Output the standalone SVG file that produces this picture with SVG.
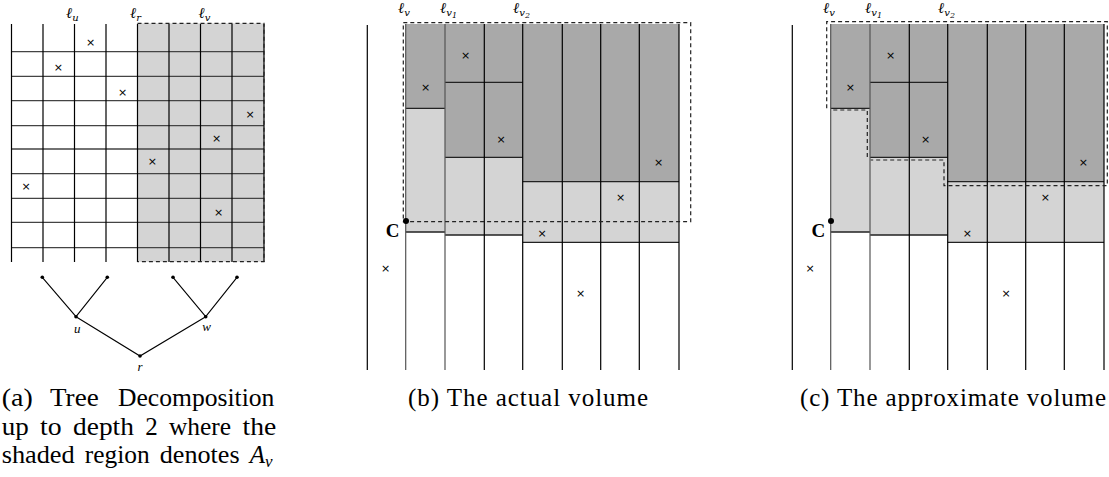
<svg xmlns="http://www.w3.org/2000/svg" width="1109" height="477" viewBox="0 0 1109 477">
<style>
.vl{stroke:#000;stroke-width:1.2;fill:none}
.vg{stroke:#555;stroke-width:1.2;fill:none}
.hl{stroke:#444;stroke-width:1.3;fill:none}
.hk{stroke:#222;stroke-width:1.3;fill:none}
.dash{stroke:#222;stroke-width:1.2;fill:none;stroke-dasharray:4,3}
.dk{fill:#a9a9a9}
.lt{fill:#d4d4d4}
.x{font-family:"DejaVu Sans",sans-serif;font-size:11px;text-anchor:middle;dominant-baseline:central;fill:#000}
.ell{font-family:"DejaVu Serif","Liberation Serif",serif;font-style:italic;font-size:15px;fill:#000}
.sub{font-size:10px}
.nl{font-family:"Liberation Serif",serif;font-style:italic;font-size:13px;text-anchor:middle;fill:#000}
.cap{font-family:"Liberation Serif",serif;font-size:25px;fill:#000}
.C{font-family:"Liberation Serif",serif;font-weight:bold;font-size:19px;text-anchor:middle;fill:#000}
.edge{stroke:#000;stroke-width:1.1;fill:none}
</style>

<!-- Panel (a) -->
<g id="panel-a">
  <rect class="lt" x="137.5" y="23.3" width="126.5" height="238.4"/>
  <g id="grid-h">
    <path class="hl" d="M11.5,51.7H264M11.5,76.3H264M11.5,100.7H264M11.5,125.7H264M11.5,149H264M11.5,173.7H264M11.5,198.3H264M11.5,222.3H264M11.5,247.7H264"/>
  </g>
  <g id="grid-v">
    <path class="vl" d="M11.5,24V262M43,24V262M74.5,24V262M106,24V262M137.5,24V262M169,24V262M200.5,24V262M232,24V262M264,24V262"/>
  </g>
  <path class="dash" d="M137.5,23.3H264V261.7H137.5"/>
  <g id="a-labels">
    <text class="ell" x="66" y="17.5">ℓ<tspan class="sub" dy="3">u</tspan></text>
    <text class="ell" x="130" y="17.5">ℓ<tspan class="sub" dy="3">r</tspan></text>
    <text class="ell" x="198.5" y="17.5">ℓ<tspan class="sub" dy="3">v</tspan></text>
  </g>
  <g id="a-points">
    <text class="x" x="90.7" y="42.3">×</text>
    <text class="x" x="58.3" y="67.7">×</text>
    <text class="x" x="122.7" y="92">×</text>
    <text class="x" x="250" y="114.3">×</text>
    <text class="x" x="216.7" y="138.3">×</text>
    <text class="x" x="152.3" y="161.7">×</text>
    <text class="x" x="26" y="186">×</text>
    <text class="x" x="218.7" y="212.3">×</text>
  </g>
</g>

<!-- Tree -->
<g id="tree">
  <g id="tree-edges">
    <path class="edge" d="M42.3,277.3L76,316.7L107.3,277.3M173,277.3L205.7,316.7L237,277.3M76,316.7L140,356L205.7,316.7"/>
  </g>
  <g id="node-leaf1"><circle cx="42.3" cy="277.3" r="1.8"/></g>
  <g id="node-leaf2"><circle cx="107.3" cy="277.3" r="1.8"/></g>
  <g id="node-leaf3"><circle cx="173" cy="277.3" r="1.8"/></g>
  <g id="node-leaf4"><circle cx="237" cy="277.3" r="1.8"/></g>
  <g id="node-u"><circle cx="76" cy="316.7" r="1.8"/><text class="nl" x="77.3" y="333">u</text></g>
  <g id="node-w"><circle cx="205.7" cy="316.7" r="1.8"/><text class="nl" x="206.7" y="331">w</text></g>
  <g id="node-r"><circle cx="140" cy="356" r="1.8"/><text class="nl" x="140" y="371">r</text></g>
</g>

<!-- Caption (a) -->
<g id="caption-a" class="cap">
  <text x="1.7" y="406" textLength="31" lengthAdjust="spacingAndGlyphs">(a)</text>
  <text x="50" y="406" textLength="48.7" lengthAdjust="spacingAndGlyphs">Tree</text>
  <text x="118" y="406" textLength="156.4" lengthAdjust="spacingAndGlyphs">Decomposition</text>
  <text x="1.7" y="434.5" textLength="27" lengthAdjust="spacingAndGlyphs">up</text>
  <text x="40.1" y="434.5" textLength="21.6" lengthAdjust="spacingAndGlyphs">to</text>
  <text x="73.1" y="434.5" textLength="60.8" lengthAdjust="spacingAndGlyphs">depth</text>
  <text x="145.3" y="434.5">2</text>
  <text x="168.9" y="434.5" textLength="62.2" lengthAdjust="spacingAndGlyphs">where</text>
  <text x="242.5" y="434.5" textLength="33.7" lengthAdjust="spacingAndGlyphs">the</text>
  <text x="1.7" y="463" textLength="73" lengthAdjust="spacingAndGlyphs">shaded</text>
  <text x="84.8" y="463" textLength="64.9" lengthAdjust="spacingAndGlyphs">region</text>
  <text x="159.8" y="463" textLength="79.8" lengthAdjust="spacingAndGlyphs">denotes</text>
  <text x="249.7" y="463" font-style="italic">A<tspan font-size="17" dy="4">v</tspan></text>
</g>

<!-- Panel (b) -->
<g id="panel-b">
  <rect class="dk" x="405.7" y="24" width="39.3" height="84.3"/>
  <rect class="lt" x="405.7" y="108.3" width="39.3" height="123.7"/>
  <rect class="dk" x="445" y="24" width="77.7" height="133.3"/>
  <rect class="lt" x="445" y="157.3" width="77.7" height="77.7"/>
  <rect class="dk" x="522.7" y="24" width="156.3" height="157.7"/>
  <rect class="lt" x="522.7" y="181.7" width="156.3" height="60.6"/>
  <path class="hk" d="M405.7,108.3H445M405.7,232H445M445,82.3H522.7M445,157.3H522.7M445,235H522.7M522.7,181.7H679M522.7,242.3H679"/>
  <path class="vl" d="M367.3,25V370"/>
  <path class="vg" d="M405.7,24V370M445,24V370"/>
  <path class="vl" d="M484.3,24V370M562.3,24V370M600.7,24V370M639.3,24V370M679,24V370"/>
  <path class="vl" stroke-width="2.2" d="M522.7,24V370"/>
  <rect class="dash" x="403.3" y="22.7" width="287.4" height="199"/>
  <g id="b-labels">
    <text class="ell" x="398" y="13">ℓ<tspan class="sub" dy="3">v</tspan></text>
    <text class="ell" x="440" y="13">ℓ<tspan class="sub" dy="3">v<tspan font-size="8" dy="2">1</tspan></tspan></text>
    <text class="ell" x="513" y="13">ℓ<tspan class="sub" dy="3">v<tspan font-size="8" dy="2">2</tspan></tspan></text>
  </g>
  <g id="b-C"><circle cx="406" cy="221" r="3"/><text class="C" x="392.5" y="237">C</text></g>
  <g id="b-points">
    <text class="x" x="465.7" y="55">×</text>
    <text class="x" x="425.7" y="87.3">×</text>
    <text class="x" x="501" y="139.3">×</text>
    <text class="x" x="658.7" y="162.7">×</text>
    <text class="x" x="620.7" y="197.7">×</text>
    <text class="x" x="542" y="233.3">×</text>
    <text class="x" x="385.7" y="268.3">×</text>
    <text class="x" x="580.7" y="293.3">×</text>
  </g>
</g>
<text class="cap" x="408" y="406" textLength="240" lengthAdjust="spacing">(b) The actual volume</text>

<!-- Panel (c) -->
<g id="panel-c" transform="translate(425,0)">
  <rect class="dk" x="405.7" y="24" width="39.3" height="84.3"/>
  <rect class="lt" x="405.7" y="108.3" width="39.3" height="123.7"/>
  <rect class="dk" x="445" y="24" width="77.7" height="133.3"/>
  <rect class="lt" x="445" y="157.3" width="77.7" height="77.7"/>
  <rect class="dk" x="522.7" y="24" width="156.3" height="157.7"/>
  <rect class="lt" x="522.7" y="181.7" width="156.3" height="60.6"/>
  <path class="hk" d="M405.7,108.3H445M405.7,232H445M445,82.3H522.7M445,157.3H522.7M445,235H522.7M522.7,181.7H679M522.7,242.3H679"/>
  <path class="vl" d="M367.3,25V370"/>
  <path class="vg" d="M405.7,24V370M445,24V370"/>
  <path class="vl" d="M484.3,24V370M562.3,24V370M600.7,24V370M639.3,24V370M679,24V370"/>
  <path class="vl" stroke-width="2.2" d="M522.7,24V370"/>
  <path class="dash" stroke-width="1.5" d="M401.7,108.3V21.7H682.3V185.7H519V160H445.7M442.3,157V110H405.7"/>
  <g id="c-labels">
    <text class="ell" x="398" y="13">ℓ<tspan class="sub" dy="3">v</tspan></text>
    <text class="ell" x="440" y="13">ℓ<tspan class="sub" dy="3">v<tspan font-size="8" dy="2">1</tspan></tspan></text>
    <text class="ell" x="513" y="13">ℓ<tspan class="sub" dy="3">v<tspan font-size="8" dy="2">2</tspan></tspan></text>
  </g>
  <g id="c-C"><circle cx="406" cy="221" r="3"/><text class="C" x="393.3" y="237">C</text></g>
  <g id="c-points">
    <text class="x" x="465.7" y="55">×</text>
    <text class="x" x="425.3" y="87.3">×</text>
    <text class="x" x="500.7" y="139.3">×</text>
    <text class="x" x="658.3" y="162.7">×</text>
    <text class="x" x="620.3" y="197.7">×</text>
    <text class="x" x="542.3" y="233.3">×</text>
    <text class="x" x="385" y="268.3">×</text>
    <text class="x" x="581" y="293.3">×</text>
  </g>
</g>
<text class="cap" x="800" y="406" textLength="306" lengthAdjust="spacing">(c) The approximate volume</text>
</svg>
